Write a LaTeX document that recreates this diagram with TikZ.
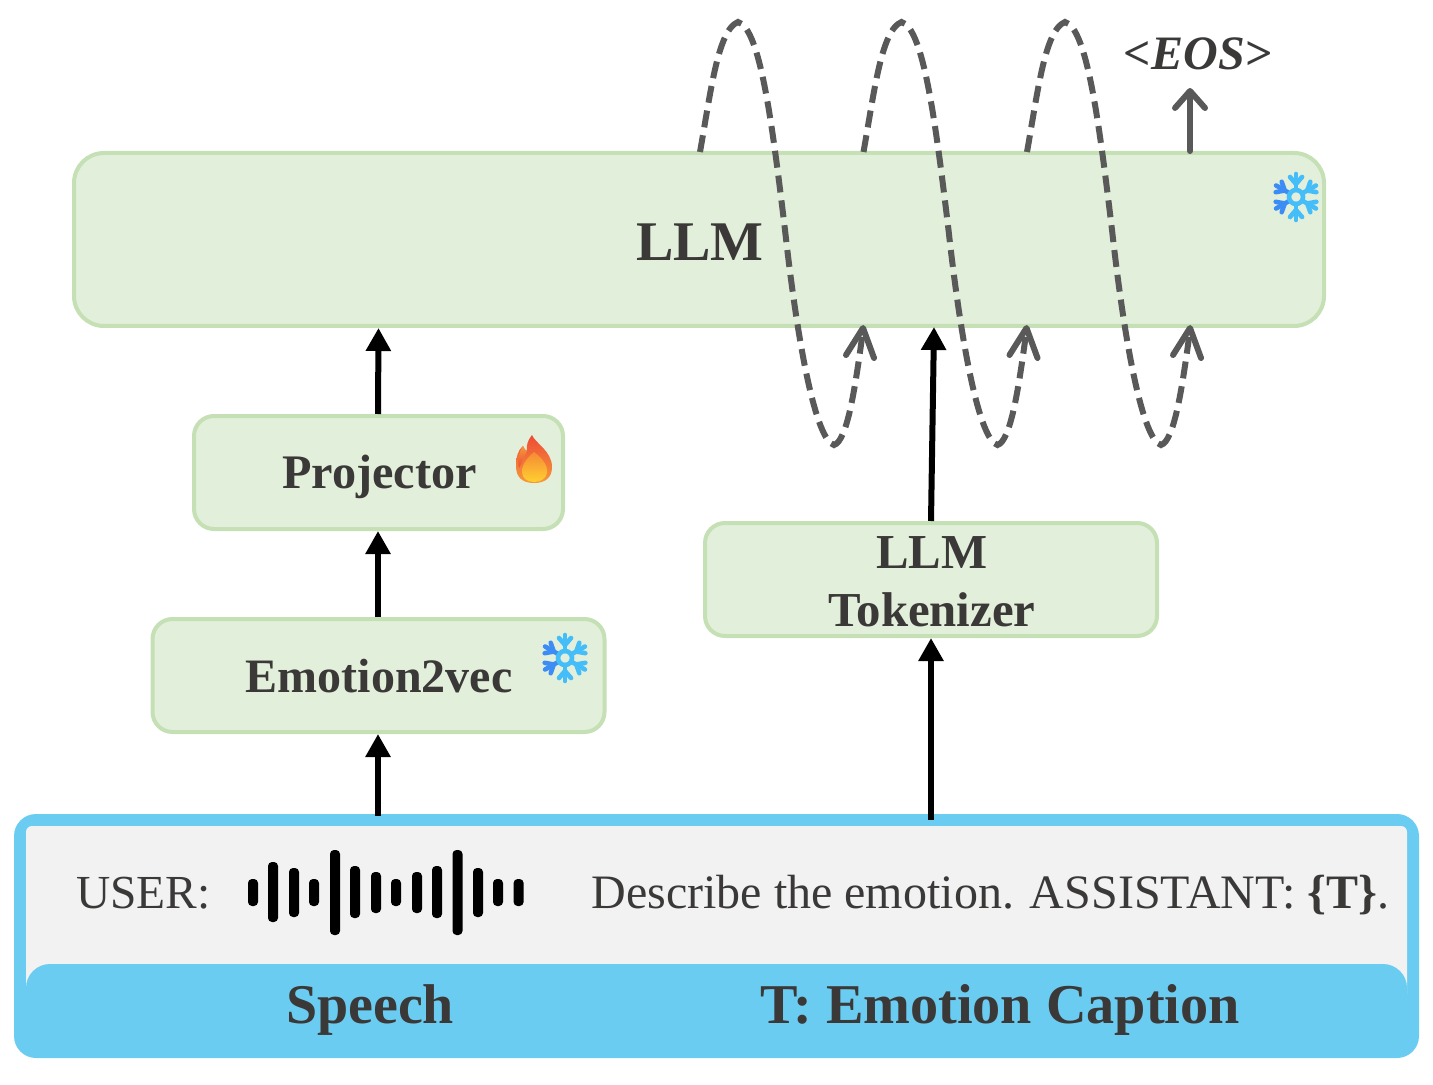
\documentclass[tikz,border=0pt]{standalone}
\usepackage{fontspec}
\setmainfont{Liberation Serif}
\usetikzlibrary{arrows.meta,calc}
\definecolor{txt}{HTML}{3B3838}
\definecolor{gfill}{HTML}{E2EFDA}
\definecolor{gline}{HTML}{C5E0B4}
\definecolor{capblue}{HTML}{6BCCF1}
\definecolor{panel}{HTML}{F2F2F2}
\definecolor{loop}{HTML}{595959}
\definecolor{flakeA}{HTML}{3B8CF5}
\definecolor{flakeB}{HTML}{44BDF9}
\definecolor{flameTop}{HTML}{EE4B36}
\definecolor{flameBot}{HTML}{F59A3A}
\definecolor{flameCoreTop}{HTML}{F58A35}
\definecolor{flameCoreBot}{HTML}{FFD030}
\tikzset{
  x=0.5pt,y=-0.5pt,
  greenbox/.style={draw=gline,fill=gfill,line width=2pt,rounded corners=10pt,inner sep=0pt,align=center,text=txt,font=\fontsize{24.4}{29}\selectfont\bfseries},
  blackarrow/.style={draw=black,line width=3pt,-{Triangle[length=11.5pt,width=12pt]},shorten >=0pt},
  greyarrow/.style={draw=loop,line width=3pt,line cap=round,-{Straight Barb[length=8.5pt,width=15pt,line width=3pt,round]}},
  loopline/.style={draw=loop,line width=3pt,dash pattern=on 8.5pt off 4pt},
  loophead/.style={draw=loop,line width=3pt,line cap=round,line join=round},
  flakearm/.style={line width=2.3pt,line cap=round},
  flake/.pic={
    \foreach \a/\c in {90/flakeB,30/flakeB,-30/flakeB,-90/flakeB,-150/flakeA,150/flakeA}{
      \begin{scope}[rotate=\a]
        \draw[flakearm,draw=\c] (7,0) -- (23,0);
        \draw[flakearm,draw=\c] (13,0) -- (20,6) (13,0) -- (20,-6);
      \end{scope}
    }
    \draw[line width=2.3pt,draw=flakeB] (0,0) circle (7);
  },
  flame/.pic={
    \shade[top color=flameTop,bottom color=flameBot]
      (17,0) .. controls (20,8) and (37,16) .. (37,32)
      .. controls (37,43) and (30,48) .. (19,48)
      .. controls (7,48) and (1,42) .. (1,31)
      .. controls (1,22) and (3,15) .. (8,11)
      .. controls (9,14) and (10,15) .. (12,16)
      .. controls (11,10) and (13,5) .. (17,0) -- cycle;
    \shade[top color=flameBot,bottom color=flameTop]
      (8,11) .. controls (4,17) and (2,24) .. (4,33)
      .. controls (7,27) and (9,22) .. (12,16) .. controls (10,15) and (9,14) .. (8,11) -- cycle;
    \shade[top color=flameCoreTop,bottom color=flameCoreBot]
      (19,17) .. controls (27,23) and (33,30) .. (32,38)
      .. controls (31,44) and (25,47) .. (19,47)
      .. controls (12,47) and (7,43) .. (7,37)
      .. controls (7,29) and (13,22) .. (19,17) -- cycle;
  }
}
\begin{document}
\begin{tikzpicture}
\useasboundingbox (0,0) rectangle (1433,1085);

% prompt panel
\fill[capblue,rounded corners=11pt] (14,814) rectangle (1419,1058);
\fill[panel,rounded corners=3pt] (26,826) rectangle (1407,1000);
\fill[capblue,rounded corners=12pt] (26,964) rectangle (1407,1030);
\fill[capblue] (26,990) rectangle (1407,1040);
\node[text=txt,font=\fontsize{23.7}{28}\selectfont,anchor=west,inner sep=0pt] (user) at (76,893.5) {USER:};
\node[text=txt,font=\fontsize{24}{28}\selectfont,anchor=west,inner sep=0pt] (prompt) at (591,895) {Describe the emotion. ASSISTANT: \textbf{\{T\}}.};
\node[text=txt,font=\fontsize{28}{32}\selectfont\bfseries,inner sep=0pt] (speech) at (370,1010) {Speech};
\node[text=txt,font=\fontsize{28.1}{32}\selectfont\bfseries,inner sep=0pt] (caption) at (1000,1010) {T: Emotion Caption};

% waveform
\foreach \x/\t/\b in {253/879/906,273/862/922,294/868/917,314/879/906,335/850/935,355/866/918,376/872/913,396/879/906,417/872/913,437/866/918,457.5/850/935,478/868/917,498/879/906,518.6/879/906}{
  \fill[black,rounded corners=2pt] (\x-5,\t) rectangle (\x+5,\b);
}

% boxes
\node[greenbox,rounded corners=15pt,minimum width=625pt,minimum height=86.5pt] (llm) at (699,239.5) {};
\node[text=txt,font=\fontsize{28}{32}\selectfont\bfseries,inner sep=0pt] (llmtext) at (700,242) {LLM};
\node[greenbox,minimum width=184.5pt,minimum height=56.5pt] (proj) at (378.5,472.5) {};
\node[text=txt,font=\fontsize{24.1}{29}\selectfont\bfseries,inner sep=0pt] (projtext) at (379.5,477) {Projector};
\node[greenbox,minimum width=226pt,minimum height=56.5pt] (emo) at (378.5,675.5) {};
\node[text=txt,font=\fontsize{24}{29}\selectfont\bfseries,inner sep=0pt] (emotext) at (379,676) {Emotion2vec};
\node[greenbox,minimum width=226pt,minimum height=56.5pt,text depth=0pt] (tok) at (931,579.5) {};
\node[text=txt,font=\fontsize{24.4}{29}\selectfont\bfseries,inner sep=0pt,align=center] (toktext) at (932,582) {LLM\\Tokenizer};

% icons
\pic at (1296,197) {flake};
\pic at (565,658) {flake};
\pic at (515,435) {flame};

% black arrows
\coordinate (speechout) at (378,816);
\coordinate (captionout) at (931,820);
\coordinate (llmin) at (934,327);
\draw[blackarrow] (speechout) -- (emo.south -| speechout);
\draw[blackarrow] (emo.north -| speechout) -- (proj.south -| speechout);
\draw[blackarrow] (proj.north -| speechout) -- (llm.south -| proj.north);
\draw[blackarrow] (captionout) -- (tok.south);
\draw[blackarrow] (tok.north) -- (llmin);

% generation loops
\foreach \dx/\n in {0/a,163.5/b,327/c}{
  \coordinate (start\n) at ($(700,152)+(\dx,0)$);
  \coordinate (top\n) at ($(738,22)+(\dx,0)$);
  \coordinate (bot\n) at ($(834,445)+(\dx,0)$);
  \coordinate (head\n) at ($(863,330)+(\dx,0)$);
  \draw[loopline] (start\n) .. controls ($(start\n)+(11,-62)$) and ($(top\n)+(-20,8)$) .. (top\n)
     .. controls ($(top\n)+(22,6)$) and ($(top\n)+(34,100)$) .. ($(top\n)+(47,208)$)
     .. controls ($(top\n)+(60,325)$) and ($(bot\n)+(-18,-5)$) .. (bot\n)
     .. controls ($(bot\n)+(13,-4)$) and ($(bot\n)+(21,-55)$) .. (head\n);
  \draw[loophead] ($(head\n)+(-17,25)$) -- ($(head\n)+(0,-2)$) -- ($(head\n)+(11,28)$);
}

% end of sequence
\node[text=txt,font=\fontsize{24}{29}\selectfont\bfseries\itshape,inner sep=0pt] (eos) at (1198,54) {<EOS>};
\draw[greyarrow] (llm.north -| 1190,0) -- (1190,88);
\end{tikzpicture}
\end{document}
